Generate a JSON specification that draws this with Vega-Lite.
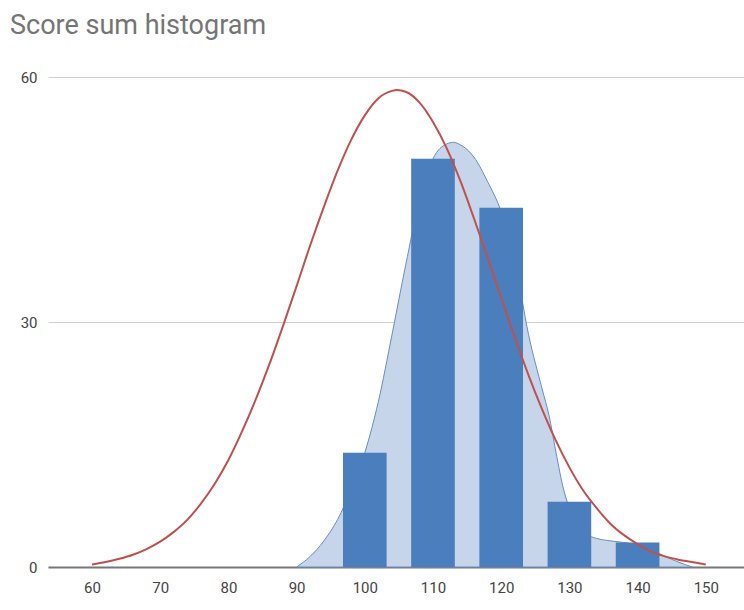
{
  "$schema": "https://vega.github.io/schema/vega-lite/v6.json",
  "width": 696,
  "height": 490,
  "autosize": {"type": "none"},
  "padding": {"left": 48, "top": 77, "right": 0, "bottom": 43},
  "background": "white",
  "title": {
    "text": "Score sum histogram",
    "anchor": "start",
    "frame": "group",
    "dx": -38,
    "offset": 30,
    "fontSize": 27,
    "font": "Roboto",
    "fontWeight": "normal",
    "color": "#757575"
  },
  "config": {
    "view": {"stroke": null},
    "axis": {"labelFont": "Roboto", "labelFontSize": 15, "labelColor": "#444"}
  },
  "datasets": {
    "bars": [
      {"bin_start": 96.8, "bin_end": 103.2, "count": 14},
      {"bin_start": 106.8, "bin_end": 113.2, "count": 50},
      {"bin_start": 116.8, "bin_end": 123.2, "count": 44},
      {"bin_start": 126.8, "bin_end": 133.2, "count": 8},
      {"bin_start": 136.8, "bin_end": 143.2, "count": 3}
    ],
    "density": [
      {"score": 90, "value": 0},
      {"score": 92, "value": 1.3},
      {"score": 94, "value": 3.2},
      {"score": 96, "value": 5.8},
      {"score": 98, "value": 9.5},
      {"score": 100, "value": 14},
      {"score": 102, "value": 20.3},
      {"score": 104, "value": 28.5},
      {"score": 106, "value": 37},
      {"score": 108, "value": 44.8},
      {"score": 110, "value": 50},
      {"score": 112, "value": 51.8},
      {"score": 113, "value": 52},
      {"score": 114, "value": 51.7},
      {"score": 116, "value": 50.2},
      {"score": 118, "value": 47.2},
      {"score": 120, "value": 43.5},
      {"score": 122, "value": 37.5},
      {"score": 124, "value": 28.5},
      {"score": 126, "value": 21.8},
      {"score": 127, "value": 18.6},
      {"score": 128, "value": 14.2},
      {"score": 129, "value": 10},
      {"score": 130, "value": 7.2},
      {"score": 131, "value": 5.5},
      {"score": 132, "value": 4.5},
      {"score": 133, "value": 3.8},
      {"score": 134, "value": 3.5},
      {"score": 136, "value": 3.2},
      {"score": 138, "value": 3.0},
      {"score": 140, "value": 2.7},
      {"score": 142, "value": 2.1},
      {"score": 144, "value": 1.3},
      {"score": 146, "value": 0.6},
      {"score": 148, "value": 0}
    ],
    "normal": [
      {"score": 60, "value": 0.3},
      {"score": 62, "value": 0.6},
      {"score": 64, "value": 1.0},
      {"score": 66, "value": 1.5},
      {"score": 68, "value": 2.2},
      {"score": 70, "value": 3.1},
      {"score": 72, "value": 4.3},
      {"score": 74, "value": 5.8},
      {"score": 76, "value": 7.8},
      {"score": 78, "value": 10.2},
      {"score": 80, "value": 13.1},
      {"score": 82, "value": 16.6},
      {"score": 84, "value": 20.5},
      {"score": 86, "value": 24.8},
      {"score": 88, "value": 29.5},
      {"score": 90, "value": 34.4},
      {"score": 92, "value": 39.4},
      {"score": 94, "value": 44.1},
      {"score": 96, "value": 48.5},
      {"score": 98, "value": 52.3},
      {"score": 100, "value": 55.3},
      {"score": 102, "value": 57.4},
      {"score": 104, "value": 58.3},
      {"score": 104.7, "value": 58.4},
      {"score": 106, "value": 58.2},
      {"score": 108, "value": 56.9},
      {"score": 110, "value": 54.5},
      {"score": 112, "value": 51.3},
      {"score": 114, "value": 47.3},
      {"score": 116, "value": 42.7},
      {"score": 118, "value": 37.9},
      {"score": 120, "value": 33.0},
      {"score": 122, "value": 28.1},
      {"score": 124, "value": 23.5},
      {"score": 126, "value": 19.3},
      {"score": 128, "value": 15.5},
      {"score": 130, "value": 12.2},
      {"score": 132, "value": 9.4},
      {"score": 134, "value": 7.2},
      {"score": 136, "value": 5.3},
      {"score": 138, "value": 3.9},
      {"score": 140, "value": 2.8},
      {"score": 142, "value": 1.9},
      {"score": 144, "value": 1.3},
      {"score": 146, "value": 0.9},
      {"score": 148, "value": 0.6},
      {"score": 150, "value": 0.3}
    ]
  },
  "layer": [
    {
      "data": {"name": "density"},
      "mark": {"type": "area", "interpolate": "monotone", "fill": "#c6d5ea", "stroke": "#6a8cc0", "strokeWidth": 1},
      "encoding": {
        "x": {
          "field": "score", "type": "quantitative",
          "scale": {"domain": [53.55, 155.6], "nice": false, "zero": false},
          "axis": {
            "title": null, "values": [60, 70, 80, 90, 100, 110, 120, 130, 140, 150],
            "grid": false, "ticks": false, "domain": true, "domainColor": "#777", "domainWidth": 2,
            "labelPadding": 13
          }
        },
        "y": {
          "field": "value", "type": "quantitative",
          "scale": {"domain": [0, 60], "nice": false},
          "axis": {
            "title": null, "values": [0, 30, 60], "grid": true, "gridColor": "#d0d0d0",
            "ticks": false, "domain": false, "labelPadding": 11
          }
        }
      }
    },
    {
      "data": {"name": "bars"},
      "mark": {"type": "rect", "color": "#4a7ebd"},
      "encoding": {
        "x": {"field": "bin_start", "type": "quantitative"},
        "x2": {"field": "bin_end"},
        "y": {"field": "count", "type": "quantitative"},
        "y2": {"datum": 0}
      }
    },
    {
      "data": {"name": "normal"},
      "mark": {"type": "line", "interpolate": "monotone", "color": "#c0504d", "strokeWidth": 2},
      "encoding": {
        "x": {"field": "score", "type": "quantitative"},
        "y": {"field": "value", "type": "quantitative"}
      }
    }
  ]
}
